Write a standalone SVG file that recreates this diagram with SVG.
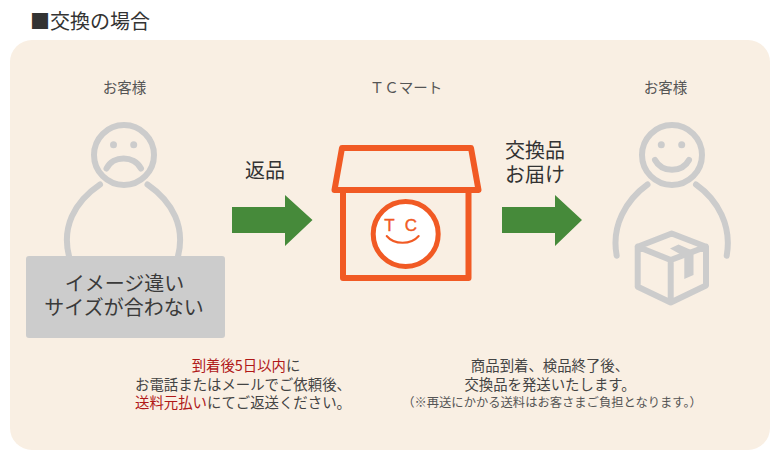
<svg xmlns="http://www.w3.org/2000/svg" width="780" height="460" viewBox="0 0 780 460">
<style>
text{font-family:"Noto Sans CJK JP","Noto Sans",sans-serif;text-anchor:middle;fill:#444}
.who{font-size:14.500px;fill:#555}
.note{font-size:14.400px}
.small{font-size:12.300px;fill:#555}
.red{fill:#b01818}
.big{font-size:20px;fill:#3a3a3a}
.act{font-size:20px;fill:#333}
.g{fill:none;stroke:#cccccc;stroke-width:6;stroke-linecap:round;stroke-linejoin:round}
.o{fill:none;stroke:#f15a24;stroke-width:6;stroke-linejoin:round}
.arrow{fill:#468a3a}
</style>
<rect width="780" height="460" fill="#fff"/>
<text x="30" y="29" style="text-anchor:start;font-size:20px;fill:#333">■交換の場合</text>
<rect x="10" y="40" width="760" height="410" rx="22" fill="#f9efe3"/>
<g id="customer-left">
<text class="who" x="124.500" y="93">お客様</text>
<circle class="g" cx="124" cy="155" r="30"/>
<circle cx="113.500" cy="144.700" r="3.500" fill="#ccc"/>
<circle cx="133.700" cy="144.700" r="3.500" fill="#ccc"/>
<path class="g" d="M106.500 168.500C113 155 134 155 141 168.500"/>
<path class="g" d="M100 184.500C74 202 61 228 69.500 258M147.500 184.500C173 202 186 228 177.500 258"/>
<rect x="26" y="256" width="199" height="82" rx="3" fill="#ccc"/>
<text class="big" x="124.500" y="291">イメージ違い</text>
<text class="big" x="124" y="315">サイズが合わない</text>
</g>
<g id="shop">
<text class="who" x="406" y="93">ＴＣマート</text>
<path class="o" d="M342 148H471L478.500 190H334.500ZM343 190V278H468.500V190"/>
<circle cx="405.700" cy="234" r="32.500" fill="#fff" stroke="#f15a24" stroke-width="5"/>
<text x="389.500" y="231" style="font-size:17px;fill:#f15a24;stroke:#f15a24;stroke-width:.4px;font-family:'Liberation Sans',sans-serif">T</text>
<text x="411" y="231" style="font-size:17px;fill:#f15a24;stroke:#f15a24;stroke-width:.4px;font-family:'Liberation Sans',sans-serif">C</text>
<path d="M386.700 236C394 245 411 245 418.700 236" fill="none" stroke="#f15a24" stroke-width="2" stroke-linecap="round"/>
</g>
<g id="customer-right">
<text class="who" x="665.500" y="93">お客様</text>
<circle class="g" cx="672" cy="155" r="30"/>
<circle cx="661.300" cy="144.700" r="3.500" fill="#ccc"/>
<circle cx="681.700" cy="144.700" r="3.500" fill="#ccc"/>
<path class="g" d="M655 160C662 173 682 173 689 160"/>
<path class="g" d="M647.500 184.500C626 200 611 226 616.700 255.700M696 184.500C718 200 732 226 726.700 255.700"/>
<path class="g" d="M671.700 233.500L637.700 246.700V286.700L670.700 302.500L706 285.500V246.700ZM637.700 246.700L670.700 260L706 246.700M670.700 260V302.500" stroke-width="5.500"/>
<path d="M670 248.500L678.500 244.500L693.500 251V275L684.300 279V256.500Z" fill="#ccc"/>
</g>
<g id="connectors">
<path class="arrow" d="M232 207H285V195L312.500 220L285 246V233H232Z"/>
<path class="arrow" d="M502 207H555V195L582 220L555 246V233H502Z"/>
</g>
<g id="labels">
<text class="act" x="265" y="178">返品</text>
<text class="act" x="535" y="158">交換品</text>
<text class="act" x="535" y="182">お届け</text>
</g>
<g id="notes">
<text class="note" x="246" y="371"><tspan class="red">到着後5日以内</tspan>に</text>
<text class="note" x="243" y="390">お電話またはメールでご依頼後、</text>
<text class="note" x="243" y="408"><tspan class="red">送料元払い</tspan>にてご返送ください。</text>
<text class="note" x="550" y="371">商品到着、検品終了後、</text>
<text class="note" x="550" y="390">交換品を発送いたします。</text>
<text class="small" x="552" y="407">（※再送にかかる送料はお客さまご負担となります。）</text>
</g>
</svg>
